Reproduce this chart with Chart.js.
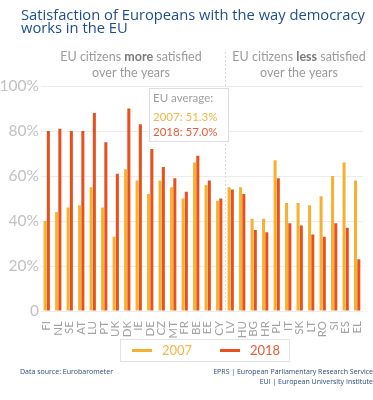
<!DOCTYPE html>
<html>
<head>
<meta charset="utf-8">
<script src="https://cdn.jsdelivr.net/npm/chart.js@4.4.0/dist/chart.umd.min.js"></script>
<style>
  html, body { margin: 0; padding: 0; background: #fff; }
  #wrap { width: 373px; height: 400px; }
</style>
</head>
<body>
<div id="wrap"><canvas id="chart" width="373" height="400"></canvas></div>
<script>
// data
const countries = ['FI','NL','SE','AT','LU','PT','UK','DK','IE','DE','CZ','MT','FR','BE','EE','CY','LV','HU','BG','HR','PL','IT','SK','LT','RO','SI','ES','EL'];
const values2007 = [40,44,46,47,55,46,33,63,58,52,58,55,50,66,56,49,55,55,41,41,67,48,48,47,51,60,66,58];
const values2018 = [80,81,80,80,88,75,61,90,83,72,64,59,53,69,58,50,54,52,36,35,59,39,38,34,33,39,37,23];
const seriesLabels = ['2007', '2018'];
const euAverages = [51.3, 57.0];
const yTicks = [0, 20, 40, 60, 80, 100];
const lastMoreIndex = 15; // CY, last country of the "more satisfied" group

const colors = ['#f6b132', '#e8501d'];
const textColors = ['#f5b547', '#e85b35'];
const titleBlue = '#1f4e8e';

function drawRich(ctx, parts, cx, y) {
  let total = 0;
  parts.forEach(p => { ctx.font = p[1]; total += ctx.measureText(p[0]).width; });
  let x = cx - total / 2;
  parts.forEach(p => {
    ctx.font = p[1];
    ctx.fillStyle = p[2];
    ctx.fillText(p[0], x, y);
    x += ctx.measureText(p[0]).width;
  });
}

const decorations = {
  id: 'decorations',
  beforeDatasetsDraw(chart) {
    const { ctx, chartArea, scales } = chart;
    const x = (scales.x.getPixelForValue(lastMoreIndex) + scales.x.getPixelForValue(lastMoreIndex + 1)) / 2;
    ctx.save();
    ctx.strokeStyle = '#dcdcdc';
    ctx.lineWidth = 1;
    ctx.setLineDash([2, 2]);
    ctx.beginPath();
    ctx.moveTo(Math.round(x) + 0.5, 52);
    ctx.lineTo(Math.round(x) + 0.5, chartArea.bottom);
    ctx.stroke();
    ctx.restore();
  },
  afterDatasetsDraw(chart) {
    const { ctx } = chart;
    ctx.save();
    // EU average box
    const bx = 149, by = 88, bw = 79, bh = 53;
    ctx.fillStyle = '#fff';
    ctx.fillRect(bx, by, bw, bh);
    ctx.strokeStyle = '#dddddd';
    ctx.lineWidth = 1;
    ctx.strokeRect(bx + 0.5, by + 0.5, bw, bh);
    ctx.textBaseline = 'middle';
    ctx.textAlign = 'left';
    ctx.font = '11.5px Lato';
    ctx.fillStyle = '#a0a0a0';
    ctx.fillText('EU average:', bx + 4, by + 10);
    euAverages.forEach((v, i) => {
      ctx.fillStyle = textColors[i];
      ctx.fillText(seriesLabels[i] + ': ' + v.toFixed(1) + '%', bx + 4, by + 29 + i * 15);
    });

    // section captions
    const grey = '#9b9b9b', dark = '#7a7a7a';
    const f = '12.5px Lato', fb = 'bold 12.5px Lato';
    drawRich(ctx, [['EU citizens ', f, grey], ['more', fb, dark], [' satisfied', f, grey]], 131, 57);
    drawRich(ctx, [['over the years', f, grey]], 131, 73);
    drawRich(ctx, [['EU citizens ', f, grey], ['less', fb, dark], [' satisfied', f, grey]], 299, 57);
    drawRich(ctx, [['over the years', f, grey]], 299, 73);
    ctx.restore();
  },
  afterDraw(chart) {
    const { ctx } = chart;
    ctx.save();
    // title, sized to the reference width
    const t1 = 'Satisfaction of Europeans with the way democracy';
    ctx.font = '16px "Open Sans"';
    const size = 16 * 344 / ctx.measureText(t1).width;
    ctx.font = size.toFixed(2) + 'px "Open Sans"';
    ctx.fillStyle = titleBlue;
    ctx.textAlign = 'left';
    ctx.textBaseline = 'alphabetic';
    ctx.fillText(t1, 21, 20);
    ctx.fillText('works in the EU', 21, 33);

    // legend
    const lx = 120, ly = 339, lw = 169, lh = 22;
    ctx.strokeStyle = '#e3e3e3';
    ctx.lineWidth = 1;
    ctx.strokeRect(lx + 0.5, ly + 0.5, lw, lh);
    const items = [[132, 162], [220, 250]];
    ctx.textBaseline = 'middle';
    ctx.font = '13px Lato';
    seriesLabels.forEach((lab, i) => {
      ctx.strokeStyle = colors[i];
      ctx.lineWidth = 3;
      ctx.beginPath();
      ctx.moveTo(items[i][0], ly + 11.5);
      ctx.lineTo(items[i][0] + 20, ly + 11.5);
      ctx.stroke();
      ctx.fillStyle = textColors[i];
      ctx.fillText(lab, items[i][1], ly + 12);
    });

    // footer
    ctx.font = '7px "Open Sans"';
    ctx.fillStyle = '#2d4c7c';
    ctx.textAlign = 'left';
    ctx.fillText('Data source: Eurobarometer', 20, 371.5);
    ctx.textAlign = 'right';
    ctx.fillText('EPRS | European Parliamentary Research Service', 373, 371.5);
    ctx.fillText('EUI | European University Institute', 373, 382);
    ctx.restore();
  }
};

new Chart(document.getElementById('chart'), {
  type: 'bar',
  data: {
    labels: countries,
    datasets: [
      { label: seriesLabels[0], data: values2007, backgroundColor: colors[0], categoryPercentage: 0.56, barPercentage: 0.95 },
      { label: seriesLabels[1], data: values2018, backgroundColor: colors[1], categoryPercentage: 0.56, barPercentage: 0.95 }
    ]
  },
  options: {
    responsive: false,
    animation: false,
    layout: { padding: { top: 86, left: 0, right: 2, bottom: 0 } },
    plugins: { legend: { display: false }, tooltip: { enabled: false } },
    scales: {
      x: {
        grid: { display: false },
        border: { display: false },
        ticks: {
          autoSkip: false, minRotation: 90, maxRotation: 90, padding: 2,
          color: '#a3a3a3', font: { family: 'Lato', size: 11.5 }
        },
        afterFit(scale) { scale.height = 89; }
      },
      y: {
        min: 0, max: 100,
        afterBuildTicks(scale) { scale.ticks = yTicks.map(v => ({ value: v })); },
        grid: { color: '#ececec', drawTicks: false },
        border: { display: false },
        ticks: {
          padding: 2, color: '#c2c2c2', font: { family: 'Lato', size: 15.5 },
          callback: v => v === 0 ? '0' : v + '%'
        },
        afterFit(scale) { scale.width = 41; }
      }
    }
  },
  plugins: [decorations]
});
</script>
</body>
</html>
